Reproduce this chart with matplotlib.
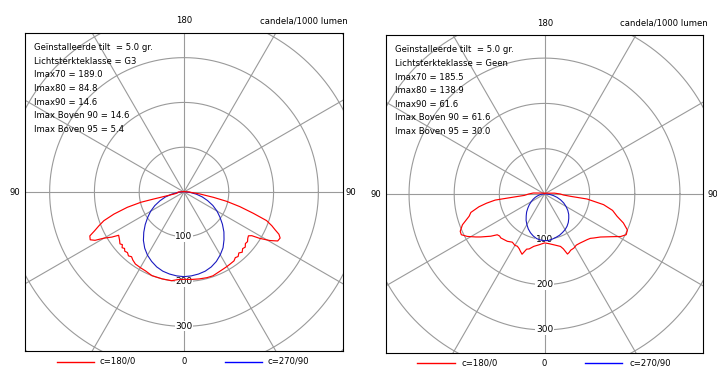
import numpy as np
import matplotlib
matplotlib.use("Agg")
import matplotlib.pyplot as plt

plt.rcParams['font.family'] = ['DejaVu Sans']

W, H = 717, 369

# ---------------- data: left chart (Lichtsterkteklasse G3) ----------------
L_red_c180_gamma = [0, 4, 8, 14, 21, 26, 30, 34, 37, 39, 41, 43, 45, 46.5, 48, 49.5, 51, 53, 55, 56.5,
                    58, 60, 61.5, 63, 65, 66.5, 68.4, 70.3, 72.5, 74.9, 76.6, 77.0, 77.5, 79, 82, 86,
                    90, 95, 100, 120, 150, 180]
L_red_c180_I = [195, 196, 200, 200, 200, 196, 195, 194, 190, 186, 189, 185, 187, 183, 186, 181, 184, 180, 177, 175,
                190, 206, 226, 235, 232, 218, 204, 190, 164, 131, 99, 69, 38, 20, 15, 14,
                13, 6, 3, 2, 1, 1]
L_red_c0_gamma = [0, 5, 10, 15, 19, 23, 27, 30, 32.6, 36, 38, 40, 42, 44, 46, 48, 50, 52, 54, 55.8,
                  57.2, 58.5, 60.5, 62.4, 64.4, 66, 67.5, 69, 70.9, 72.9, 75.3, 77.7, 79.7, 82.9, 87,
                  90, 95, 100, 120, 150, 180]
L_red_c0_I = [195, 196, 197, 198, 198, 195, 193, 192, 191, 190, 186, 188, 183, 187, 182, 184, 179, 180, 176, 174,
              180, 198, 220, 236, 238, 232, 220, 210, 195, 162, 129, 97, 67, 36, 15,
              13, 6, 3, 2, 1, 1]
L_blue_gamma = [0, 5, 10, 15, 20, 25, 30, 35, 40, 45, 50, 55, 60, 65, 70, 75, 80, 85, 90, 100, 180]
L_blue_c270_I = [189, 188, 186, 183, 178, 171, 163, 153, 141, 127, 113, 99, 86, 72, 57, 43, 28, 15, 6, 2, 1]
L_blue_c90_I = [189, 188, 186, 183, 178, 171, 162, 152, 139, 126, 112, 98, 85, 71, 56, 42, 28, 15, 6, 2, 1]
L_info = ["Geïnstalleerde tilt  = 5.0 gr.", "Lichtsterkteklasse = G3", "Imax70 = 189.0",
          "Imax80 = 84.8", "Imax90 = 14.6", "Imax Boven 90 = 14.6", "Imax Boven 95 = 5.4"]

# ---------------- data: right chart (Lichtsterkteklasse Geen) ----------------
R_red_c180_gamma = [0, 6.4, 11.6, 15.7, 18, 20.5, 23, 25, 27.6, 30, 33.8, 38.3, 42, 45, 47, 49.3, 51.9, 56.1,
                    58, 61.3, 64, 66.2, 69.5, 73.6, 76, 79, 81, 83, 84.5, 86, 90, 95, 100, 120, 150, 180]
R_red_c180_I = [108, 113, 118, 126, 128, 142, 137, 133, 130, 131, 128, 133, 135, 137, 136, 138, 151, 170,
                179, 195, 205, 204, 194, 174, 168, 148, 130, 110, 65, 45, 35, 25, 12, 4, 2, 1]
R_red_c0_gamma = [0, 5, 10.4, 17, 19, 21, 23, 25, 28.5, 32, 36.3, 40, 43, 46, 48.3, 52.5, 57.4, 60.9, 63.6,
                  66.6, 69.9, 73, 76.5, 79.8, 83.3, 84.9, 87, 90, 95, 100, 120, 150, 180]
R_red_c0_I = [110, 110, 114, 121, 128, 142, 140, 137, 136, 133, 134, 136, 138, 141, 146, 156, 175, 193, 202,
              200, 186, 168, 155, 133, 95, 58, 42, 35, 22, 10, 4, 2, 1]
R_blue_gamma = [0, 5, 10, 15, 20, 25, 30, 35, 40, 45, 50, 55, 60, 65, 70, 75, 80, 85, 90, 100, 180]
R_blue_c270_I = [103, 102, 100, 96, 91, 85, 78, 71, 63, 56, 48, 41, 34, 28, 22, 16, 11, 7, 3, 1, 1]
R_blue_c90_I = [103, 103, 101, 99, 97, 94, 91, 87, 82, 76, 70, 63, 55, 47, 38, 29, 20, 12, 5, 2, 1]
R_info = ["Geïnstalleerde tilt  = 5.0 gr.", "Lichtsterkteklasse = Geen", "Imax70 = 185.5",
          "Imax80 = 138.9", "Imax90 = 61.6", "Imax Boven 90 = 61.6", "Imax Boven 95 = 30.0"]

ring_values = [100, 200, 300, 400, 500]
ring_labels = ["100", "200", "300"]
spoke_angles = list(range(0, 360, 30))
legend_labels = ["c=180/0", "c=270/90"]

RED = "#ff0000"
BLUE = "#1a1ac0"
GRID = "#9a9a9a"
FS = 6.1

fig = plt.figure(figsize=(W / 100, H / 100), dpi=100)
fig.patch.set_facecolor("white")


def ftext(x, y, s, **kw):
    kw.setdefault("fontsize", FS)
    kw.setdefault("va", "center")
    fig.text(x / W, 1 - y / H, s, **kw)


def curve(gl, il, gr, ir):
    gl = np.radians(np.asarray(gl, float))
    il = np.asarray(il, float)
    gr = np.radians(np.asarray(gr, float))
    ir = np.asarray(ir, float)
    xl = -il * np.sin(gl)
    yl = -il * np.cos(gl)
    xr = ir * np.sin(gr)
    yr = -ir * np.cos(gr)
    x = np.concatenate([xl[::-1], xr[1:]])
    y = np.concatenate([yl[::-1], yr[1:]])
    return x, y


def panel(box, lim, red, blue):
    x0, y0, x1, y1 = box
    ax = fig.add_axes([x0 / W, 1 - y1 / H, (x1 - x0) / W, (y1 - y0) / H])
    ax.set_xlim(-lim, lim)
    ax.set_ylim(-lim, lim)
    ax.set_xticks([])
    ax.set_yticks([])
    for sp in ax.spines.values():
        sp.set_linewidth(0.8)
        sp.set_color("black")
    t = np.linspace(0, 2 * np.pi, 721)
    for r in ring_values:
        ax.plot(r * np.cos(t), r * np.sin(t), color=GRID, lw=0.8, zorder=1)
    for a in spoke_angles:
        ar = np.radians(a)
        ax.plot([0, 800 * np.sin(ar)], [0, -800 * np.cos(ar)], color=GRID, lw=0.8, zorder=1)
    for lab in ring_labels:
        ax.text(0, -float(lab), lab, ha="center", va="center", fontsize=FS + 0.4, zorder=2,
                bbox=dict(boxstyle="square,pad=0.05", fc="white", ec="none"))
    xb, yb = curve(*blue)
    ax.plot(xb, yb, color=BLUE, lw=0.8, zorder=3)
    xr, yr = curve(*red)
    ax.plot(xr, yr, color=RED, lw=0.85, zorder=4)
    return ax


panel((25, 33, 343, 351), 355,
      (L_red_c180_gamma, L_red_c180_I, L_red_c0_gamma, L_red_c0_I),
      (L_blue_gamma, L_blue_c270_I, L_blue_gamma, L_blue_c90_I))
panel((386, 35, 703, 353), 351,
      (R_red_c180_gamma, R_red_c180_I, R_red_c0_gamma, R_red_c0_I),
      (R_blue_gamma, R_blue_c270_I, R_blue_gamma, R_blue_c90_I))

# ---- left panel texts
ftext(184, 20.5, "180", ha="center")
ftext(348, 20.5, "candela/1000 lumen", ha="right")
ftext(15, 192.5, "90", ha="center")
ftext(345, 192.5, "90", ha="left")
ftext(184, 361.5, "0", ha="center")
for i, s in enumerate(L_info):
    ftext(33.5, 47.5 + i * 13.65, s, ha="left")
fig.add_artist(plt.Line2D([56.5 / W, 93.5 / W], [1 - 361.5 / H] * 2, color=RED, lw=1.0))
ftext(100, 361.5, legend_labels[0], ha="left")
fig.add_artist(plt.Line2D([225 / W, 262 / W], [1 - 361.5 / H] * 2, color="#0000ff", lw=1.0))
ftext(268, 361.5, legend_labels[1], ha="left")

# ---- right panel texts
ftext(545.5, 23, "180", ha="center")
ftext(708, 23, "candela/1000 lumen", ha="right")
ftext(375.5, 194.5, "90", ha="center")
ftext(707, 194.5, "90", ha="left")
ftext(544, 363, "0", ha="center")
for i, s in enumerate(R_info):
    ftext(395, 50 + i * 13.6, s, ha="left")
fig.add_artist(plt.Line2D([417 / W, 455 / W], [1 - 363 / H] * 2, color=RED, lw=1.0))
ftext(461.5, 363, legend_labels[0], ha="left")
fig.add_artist(plt.Line2D([585 / W, 622 / W], [1 - 363 / H] * 2, color="#0000ff", lw=1.0))
ftext(629.5, 363, legend_labels[1], ha="left")

fig.savefig("out.png", dpi=100)
